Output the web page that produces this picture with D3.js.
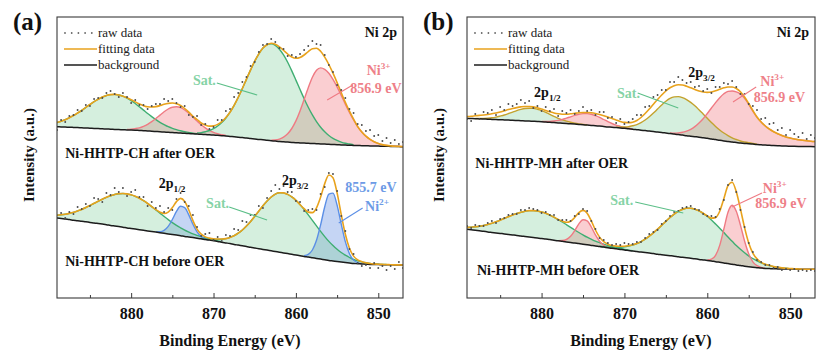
<!DOCTYPE html>
<html>
<head>
<meta charset="utf-8">
<script src="https://cdn.jsdelivr.net/npm/d3@7/dist/d3.min.js"></script>
<style>
  body { margin: 0; background: #fff; }
</style>
</head>
<body>
<svg id="chart" width="817" height="358"></svg>
<script>
// binding energy grid shared by every scan: 889 -> 847 eV, 0.5 eV step
const energy = d3.range(889, 846.99, -0.5)
const majorTicks = [880, 870, 860, 850]
const minorTicks = [885, 875, 865, 855]
const legendLabels = ['raw data', 'fitting data', 'background']

// ---- Ni-HHTP-CH after OER (intensity in a.u.) ----
const chAfterBg = [171.3,171.1,170.9,170.8,170.6,170.4,170.2,170.0,169.8,169.6,169.4,169.2,169.0,168.8,168.6,168.4,168.3,168.1,168.0,
  167.8,167.5,167.3,167.0,166.8,166.5,166.2,166.0,165.7,165.5,165.2,165.0,164.7,164.5,164.2,164.0,163.7,163.5,163.2,163.0,
  162.7,162.3,162.0,161.6,161.2,160.8,160.4,160.0,159.5,159.1,158.6,158.2,157.7,157.3,156.9,156.5,156.2,155.9,155.6,155.3,
  155.1,154.9,154.7,154.5,154.3,154.1,153.9,153.7,153.5,153.3,153.1,152.9,152.8,152.6,152.5,152.3,152.2,152.1,152.0,151.9,
  151.8,151.7,151.6,151.5,151.4,151.3]
const chAfterRaw = [168,178,176,182,183,188,187,193,192,199,200,200,205,207,204,201,205,201,195,
  198,193,193,189,192,194,194,199,197,199,195,191,192,183,181,182,173,174,169,171,
  178,178,187,189,201,205,216,221,232,236,246,253,254,259,256,250,249,242,243,241,
  244,248,252,257,254,253,243,233,226,213,208,200,189,185,174,173,167,168,162,163,
  157,160,155,158,154,156]
const chAfterSatA = [4.2,5.6,7.4,9.5,11.9,14.6,17.5,20.6,23.7,26.7,29.4,31.7,33.5,34.6,35.0,34.6,33.5,31.7,29.4,26.7,
  23.7,20.6,17.5,14.6,11.9,9.5,7.4,5.6,4.2,3.1,2.2,1.5,1.1,0.7,0.4]
const chAfterNi3A = [0.5,0.9,1.6,2.7,4.4,6.7,9.6,13.0,16.7,20.3,23.3,25.3,26.0,25.3,23.3,20.3,16.7,13.0,9.6,6.7,4.4,2.7,1.6,0.9,0.5]
const chAfterSatB = [1.1,1.7,2.8,4.3,6.4,9.3,13.1,18.0,24.2,31.5,39.9,49.1,58.9,68.6,77.7,85.6,91.8,95.6,97.0,95.8,
  92.3,86.9,79.8,71.5,62.6,53.4,44.4,36.1,28.6,22.1,16.7,12.3,8.8,6.2,4.3,2.8,1.8,1.2,0.8]
const chAfterNi3B = [0.5,1.1,2.4,4.6,8.3,13.9,21.8,32.0,43.7,55.6,66.2,73.4,76.0,74.7,71.0,65.1,57.8,49.5,41.0,32.8,
  25.4,18.9,13.7,9.6,6.5,4.2,2.7,1.6,0.9,0.5,0.3,0.2,0.1]

// ---- Ni-HHTP-CH before OER ----
const chBeforeBg = [80.0,79.5,78.9,78.4,77.8,77.3,76.7,76.2,75.6,75.1,74.5,73.9,73.3,72.6,72.0,71.4,70.8,70.1,69.5,
  68.9,68.3,67.7,67.1,66.5,65.9,65.3,64.7,64.1,63.5,62.9,62.3,61.6,61.0,60.4,59.8,59.2,58.5,57.9,57.3,
  56.6,55.8,55.1,54.4,53.6,52.9,52.2,51.5,50.7,50.0,49.3,48.6,47.9,47.2,46.5,45.8,45.1,44.4,43.7,43.0,
  42.3,41.6,41.0,40.3,39.6,38.9,38.2,37.5,37.0,36.5,36.0,35.5,35.0,34.5,34.3,34.0,33.8,33.5,33.4,33.4,
  33.3,33.3,33.2,33.1,33.1,33.0]
const chBeforeRaw = [80,85,80,86,84,91,89,94,92,100,99,96,105,103,110,106,110,102,106,
  108,101,101,92,96,90,92,86,90,88,99,105,96,92,83,71,62,64,65,58,
  61,57,63,62,69,68,77,76,83,83,92,90,100,107,113,109,112,106,106,97,
  96,87,88,89,88,104,111,125,124,107,82,67,49,44,35,32,33,30,35,30,
  32,28,32,29,36,30]
const chBeforeSatA = [2.8,3.7,4.9,6.2,7.9,9.8,11.9,14.3,16.9,19.6,22.2,24.9,27.4,29.6,31.5,32.8,33.7,34.0,33.7,32.8,
  31.5,29.6,27.4,24.9,22.2,19.6,16.9,14.3,11.9,9.8,7.9,6.2,4.9,3.7,2.8,2.0,1.5,1.1,0.7,0.5,0.3]
const chBeforeNi2A = [0.2,0.9,2.9,7.5,15.0,23.7,29.4,28.7,22.1,13.3,6.3,2.4,0.7,0.2]
const chBeforeSatB = [0.2,0.4,0.7,1.2,1.9,2.9,4.3,6.2,8.7,11.9,15.8,20.5,25.8,31.6,37.6,43.6,49.1,53.8,57.4,59.5,
  60.0,59.2,57.4,54.7,51.1,46.9,42.2,37.4,32.5,27.7,23.2,19.1,15.4,12.2,9.5,7.3,5.5,4.0,2.9,2.1,1.4,1.0,0.7,0.4,0.3,0.2]
const chBeforeNi2B = [0.8,2.7,7.7,18.1,34.3,53.0,66.4,67.9,56.4,38.1,20.9,9.3,3.4,1.0,0.2]

// ---- Ni-HHTP-MH after OER ----
const mhAfterBg = [179.7,179.5,179.3,179.2,179.0,178.8,178.6,178.4,178.3,178.1,177.9,177.7,177.5,177.3,177.1,176.9,176.7,176.5,176.3,
  176.0,175.7,175.4,175.1,174.8,174.5,174.2,173.9,173.6,173.3,172.9,172.6,172.2,171.9,171.5,171.1,170.8,170.4,170.1,169.7,
  169.2,168.8,168.3,167.8,167.4,166.9,166.4,165.9,165.5,165.0,164.5,163.9,163.4,162.9,162.3,161.8,161.3,160.8,160.2,159.7,
  159.0,158.4,157.7,157.1,156.6,156.0,155.5,155.0,154.6,154.3,153.9,153.5,153.2,152.9,152.7,152.4,152.2,152.1,151.9,151.8,
  151.7,151.6,151.5,151.4,151.4,151.3]
const mhAfterFit = [181.5,181.8,182.2,182.6,183.0,183.5,184.2,185.0,186.0,187.2,188.4,189.5,190.4,191.1,191.5,191.5,191.1,190.2,188.9,
  187.5,186.2,185.0,184.2,183.8,183.8,184.2,184.7,185.2,185.5,185.5,185.2,184.5,183.5,182.3,181.0,179.5,178.0,176.6,175.6,
  175.3,175.8,177.5,180.5,184.5,189.0,193.8,198.5,203.0,207.0,210.2,212.2,213.2,213.0,211.8,210.2,208.5,207.0,206.0,205.6,
  206.0,207.2,208.8,210.2,211.0,211.0,209.5,206.3,201.0,194.5,187.5,181.0,176.0,172.0,168.8,166.3,164.2,162.5,161.1,160.0,
  159.0,158.3,157.7,157.2,156.8,156.5]
const mhAfterRaw = [179,177,184,179,186,185,188,183,191,188,194,192,194,198,195,197,190,192,187,
  191,187,189,182,187,185,188,184,187,191,187,188,183,186,186,180,181,175,179,174,
  176,179,183,183,191,192,201,203,208,208,216,216,221,218,215,216,211,212,207,209,
  205,211,211,215,214,217,211,204,204,194,192,188,179,180,174,175,168,170,163,168,
  164,161,165,159,163,160]
const mhAfterSatA = [0.2,0.3,0.6,1.0,1.6,2.5,3.6,4.9,6.5,8.2,9.9,11.3,12.4,12.9,12.9,12.2,11.1,9.6,7.9,6.2,4.6,3.3,2.3,1.5,0.9,0.5,0.3,0.2]
const mhAfterNi3A = [0.3,0.5,0.9,1.6,2.5,3.7,5.3,7.0,8.7,10.1,11.1,11.5,11.1,10.1,8.7,7.0,5.3,3.7,2.5,1.6,0.9,0.5,0.3]
const mhAfterSatB = [0.4,0.8,1.3,2.1,3.4,5.1,7.5,10.6,14.3,18.5,23.1,27.6,31.7,35.1,37.2,38.0,37.5,36.1,33.8,30.9,
  27.4,23.8,20.1,16.5,13.2,10.3,7.9,5.8,4.2,3.0,2.0,1.4,0.9,0.6,0.4]
const mhAfterNi3B = [0.6,1.0,1.7,2.9,4.5,6.9,10.1,14.2,19.1,24.8,31.0,37.0,42.6,47.1,50.0,51.0,50.6,49.0,45.0,39.3,
  33.0,27.1,22.8,19.1,16.1,13.9,12.0,10.4,9.2,8.2,7.3,6.7,6.2,5.8,5.4,5.2]

// ---- Ni-HHTP-MH before OER ----
const mhBeforeBg = [68.7,68.2,67.7,67.2,66.7,66.1,65.6,65.1,64.6,64.1,63.6,63.1,62.6,62.0,61.5,61.0,60.5,60.0,59.5,
  58.9,58.4,57.8,57.2,56.7,56.1,55.5,54.9,54.4,53.8,53.2,52.6,52.0,51.5,50.9,50.3,49.7,49.2,48.6,48.0,
  47.5,47.0,46.4,45.9,45.4,44.9,44.4,43.8,43.3,42.8,42.3,41.8,41.2,40.7,40.2,39.7,39.2,38.6,38.1,37.6,
  37.0,36.3,35.7,35.1,34.4,33.8,33.1,32.5,31.8,31.2,30.7,30.3,29.9,29.6,29.4,29.2,29.1,29.0,29.0,28.9,
  28.9,28.8,28.8,28.8,28.7,28.7]
const mhBeforeRaw = [72,70,73,72,72,75,77,75,79,80,83,84,84,88,88,90,89,88,85,
  86,83,83,78,78,78,77,82,84,89,87,77,69,60,58,55,53,54,53,55,
  54,54,56,56,60,64,66,68,74,77,82,86,87,90,91,92,89,88,84,82,
  82,81,89,98,113,118,106,88,71,55,46,38,36,33,33,30,31,28,29,28,
  29,27,28,27,28,27]
const mhBeforeSatA = [1.9,2.6,3.5,4.5,5.8,7.4,9.1,11.1,13.2,15.5,17.7,20.0,22.0,23.8,25.3,26.4,26.9,27.0,26.6,25.8,
  24.5,23.0,21.2,19.3,17.2,15.1,13.1,11.1,9.3,7.6,6.2,4.9,3.8,3.0,2.2,1.7,1.2,0.9,0.6,0.4,0.3]
const mhBeforeNi3A = [0.2,0.8,2.4,6.2,12.5,19.8,24.5,24.0,18.4,11.1,5.3,2.0,0.6,0.1]
const mhBeforeSatB = [0.3,0.4,0.7,1.0,1.5,2.2,3.1,4.4,6.0,8.0,10.5,13.5,17.0,20.8,25.0,29.4,33.9,38.2,42.1,45.4,
  47.9,49.5,50.0,49.6,48.5,46.6,44.1,41.1,37.7,34.1,30.3,26.5,22.9,19.4,16.2,13.4,10.8,8.6,6.8,5.2,
  4.0,3.0,2.2,1.6,1.1,0.8,0.5,0.4,0.2]
const mhBeforeNi3B = [0.4,1.8,6.4,16.9,33.9,51.4,59.0,53.7,40.4,25.2,13.0,5.5,2.0,0.6,0.1]

// fitted components: 'from' is the binding energy where each listed component starts
const chAfter = { bg: chAfterBg, raw: chAfterRaw, peaks: [
  { kind: 'sat', from: 889, values: chAfterSatA },
  { kind: 'ni3', from: 880.5, values: chAfterNi3A },
  { kind: 'sat', from: 872, values: chAfterSatB },
  { kind: 'ni3', from: 863, values: chAfterNi3B } ] }
const chBefore = { bg: chBeforeBg, raw: chBeforeRaw, peaks: [
  { kind: 'sat', from: 889, values: chBeforeSatA },
  { kind: 'ni2', from: 877, values: chBeforeNi2A },
  { kind: 'sat', from: 871.5, values: chBeforeSatB },
  { kind: 'ni2', from: 859, values: chBeforeNi2B } ] }
const mhAfter = { bg: mhAfterBg, raw: mhAfterRaw, fit: mhAfterFit, satLine: '#c3a22e', peaks: [
  { kind: 'sat', from: 888, values: mhAfterSatA },
  { kind: 'ni3', from: 880, values: mhAfterNi3A },
  { kind: 'sat', from: 871, values: mhAfterSatB },
  { kind: 'ni3', from: 864.5, values: mhAfterNi3B } ] }
const mhBefore = { bg: mhBeforeBg, raw: mhBeforeRaw, peaks: [
  { kind: 'sat', from: 889, values: mhBeforeSatA },
  { kind: 'ni3', from: 878, values: mhBeforeNi3A },
  { kind: 'sat', from: 873, values: mhBeforeSatB },
  { kind: 'ni3', from: 860, values: mhBeforeNi3B } ] }

const col = {
  sat: { fill: 'rgba(118,204,150,0.31)', line: '#3fae72', text: '#86d3a6' },
  ni3: { fill: 'rgba(240,118,128,0.36)', line: '#ef7a83', text: '#ee8088' },
  ni2: { fill: 'rgba(110,150,228,0.40)', line: '#5b8fe6', text: '#6d9be6' }
}
const fitColor = '#e8a21c'
const fontFamily = "'Liberation Serif', 'Times New Roman', serif"

const svg = d3.select('#chart').attr('font-family', fontFamily)
const y = d3.scaleLinear().domain([0, 281]).range([298, 17])

const startIndex = from => Math.round((energy[0] - from) / 0.5)

function fitValues(s) {
  if (s.fit) return s.fit
  const total = s.bg.slice()
  s.peaks.forEach(pk => {
    const i0 = startIndex(pk.from)
    pk.values.forEach((v, k) => { total[i0 + k] += v })
  })
  return total
}

function txt(g, size) {
  return g.append('text').attr('font-family', fontFamily).attr('font-size', size)
}

function richText(g, x, yy, parts, size, color) {
  const t = txt(g, size).attr('x', x).attr('y', yy)
    .attr('font-weight', 'bold').attr('fill', color)
  parts.forEach(([s, mode]) => {
    const ts = t.append('tspan').text(s)
    if (mode === 'sub') ts.attr('font-size', size * 0.66).attr('dy', 4)
    if (mode === 'sup') ts.attr('font-size', size * 0.66).attr('dy', -6)
  })
  return t
}

const panels = [
  { id: 'a', left: 57, right: 403, tag: '(a)', spectra: [chAfter, chBefore],
    notes: [
      { e: 872.5, i: 213, parts: [['Sat.']], c: col.sat.text, lead: [869.6, 215, 864.7, 203], lc: '#5cbf88' },
      { e: 851.4, i: 223, parts: [['Ni'], ['3+', 'sup']], c: col.ni3.text },
      { e: 853.4, i: 205, parts: [['856.9 eV']], c: col.ni3.text, lead: [853.1, 213, 856.2, 198], lc: '#ef7a83' },
      { e: 888.0, i: 140, parts: [['Ni-HHTP-CH after OER']], c: '#111' },
      { e: 876.65, i: 110, parts: [['2p'], ['1/2', 'sub']], c: '#111' },
      { e: 861.7, i: 113, parts: [['2p'], ['3/2', 'sub']], c: '#111' },
      { e: 870.9, i: 90, parts: [['Sat.']], c: col.sat.text, lead: [868.1, 91, 863.5, 78], lc: '#5cbf88' },
      { e: 854.0, i: 106, parts: [['855.7 eV']], c: col.ni2.text },
      { e: 851.6, i: 87, parts: [['Ni'], ['2+', 'sup']], c: col.ni2.text, lead: [851.9, 90, 854.8, 75], lc: '#5b8fe6' },
      { e: 888.0, i: 32, parts: [['Ni-HHTP-CH before OER']], c: '#111' }
    ] },
  { id: 'b', left: 467, right: 815, tag: '(b)', spectra: [mhAfter, mhBefore],
    notes: [
      { e: 880.9, i: 201, parts: [['2p'], ['1/2', 'sub']], c: '#111' },
      { e: 862.3, i: 221, parts: [['2p'], ['3/2', 'sub']], c: '#111' },
      { e: 870.9, i: 200, parts: [['Sat.']], c: col.sat.text, lead: [868.4, 205, 863.5, 190], lc: '#5cbf88' },
      { e: 853.6, i: 212, parts: [['Ni'], ['3+', 'sup']], c: col.ni3.text },
      { e: 854.4, i: 196, parts: [['856.9 eV']], c: col.ni3.text, lead: [854.1, 211, 856.9, 196], lc: '#ef7a83' },
      { e: 888.0, i: 130, parts: [['Ni-HHTP-MH after OER']], c: '#111' },
      { e: 871.7, i: 93, parts: [['Sat.']], c: col.sat.text, lead: [868.7, 96, 862.9, 85], lc: '#5cbf88' },
      { e: 853.3, i: 105, parts: [['Ni'], ['3+', 'sup']], c: col.ni3.text },
      { e: 854.2, i: 90, parts: [['856.9 eV']], c: col.ni3.text, lead: [853.4, 105, 857.0, 91], lc: '#ef7a83' },
      { e: 887.8, i: 23, parts: [['Ni-HHTP-MH before OER']], c: '#111' }
    ] }
]

panels.forEach(p => {
  const x = d3.scaleLinear().domain([889, 847]).range([p.left, p.right])
  const g = svg.append('g')

  svg.append('clipPath').attr('id', 'clip-' + p.id).append('rect')
    .attr('x', p.left).attr('y', 17).attr('width', p.right - p.left).attr('height', 281)
  const plot = g.append('g').attr('clip-path', `url(#clip-${p.id})`)

  const area = d3.area().curve(d3.curveMonotoneX)
    .x(d => x(d.e)).y0(d => y(d.base)).y1(d => y(d.top))
  const topLine = d3.line().curve(d3.curveMonotoneX)
    .x(d => x(d.e)).y(d => y(d.top))
  const plain = d3.line().curve(d3.curveMonotoneX)
    .x((d, i) => x(energy[i])).y(d => y(d))

  p.spectra.forEach(s => {
    s.peaks.forEach(pk => {
      const i0 = startIndex(pk.from)
      pk.pts = pk.values.map((v, k) => ({ e: energy[i0 + k], base: s.bg[i0 + k], top: s.bg[i0 + k] + v }))
    })
  })

  // Ni fills first, satellites laid over them, then every outline
  const order = pk => (pk.kind === 'sat' ? 1 : 0)
  p.spectra.forEach(s => s.peaks.slice().sort((a, b) => order(a) - order(b)).forEach(pk => {
    plot.append('path').attr('d', area(pk.pts)).attr('fill', col[pk.kind].fill)
  }))
  p.spectra.forEach(s => s.peaks.forEach(pk => {
    const stroke = pk.kind === 'sat' && s.satLine ? s.satLine : col[pk.kind].line
    plot.append('path').attr('d', topLine(pk.pts)).attr('fill', 'none')
      .attr('stroke', stroke).attr('stroke-width', 1.4)
  }))

  // background and envelope
  p.spectra.forEach(s => {
    plot.append('path').attr('d', plain(s.bg)).attr('fill', 'none')
      .attr('stroke', '#1c1c1c').attr('stroke-width', 1.5)
    plot.append('path').attr('d', plain(fitValues(s))).attr('fill', 'none')
      .attr('stroke', fitColor).attr('stroke-width', 1.6)
  })

  // raw data points
  p.spectra.forEach(s => {
    plot.selectAll(null).data(s.raw).join('circle')
      .attr('cx', (d, i) => x(energy[i])).attr('cy', d => y(d))
      .attr('r', 0.95).attr('fill', '#4a4a4a')
  })

  // frame
  g.append('rect').attr('x', p.left).attr('y', 17)
    .attr('width', p.right - p.left).attr('height', 281)
    .attr('fill', 'none').attr('stroke', '#3a3a3a').attr('stroke-width', 1.1)

  // inward ticks on the energy axis
  const axis = g.append('g').attr('transform', 'translate(0,298)')
    .call(d3.axisBottom(x).tickValues(majorTicks).tickSizeInner(-5).tickSizeOuter(0)
      .tickPadding(10).tickFormat(d3.format('d')))
  axis.attr('font-family', fontFamily)
  axis.select('.domain').remove()
  axis.selectAll('line').attr('stroke', '#3a3a3a')
  axis.selectAll('text').attr('font-size', 16).attr('font-weight', 'bold').attr('fill', '#111')
  const minor = g.append('g').attr('transform', 'translate(0,298)')
    .call(d3.axisBottom(x).tickValues(minorTicks).tickSizeInner(-3).tickSizeOuter(0).tickFormat(''))
  minor.select('.domain').remove()
  minor.selectAll('line').attr('stroke', '#3a3a3a')

  // axis titles and panel tag
  const midX = (p.left + p.right) / 2
  txt(g, 16).attr('x', midX).attr('y', 346).attr('text-anchor', 'middle')
    .attr('font-weight', 'bold').attr('fill', '#111')
    .text('Binding Energy (eV)')
  txt(g, 15).attr('transform', `translate(${p.left - 23},155) rotate(-90)`)
    .attr('text-anchor', 'middle').attr('font-weight', 'bold').attr('fill', '#111')
    .text('Intensity (a.u.)')
  txt(g, 25).attr('x', p.left - 44).attr('y', 30)
    .attr('font-weight', 'bold').attr('fill', '#111').text(p.tag)
  txt(g, 14).attr('x', p.right - 6).attr('y', 37).attr('text-anchor', 'end')
    .attr('font-weight', 'bold').attr('fill', '#111').text('Ni 2p')

  // legend
  const lx = p.left + 7
  d3.range(5).forEach(k => g.append('circle').attr('cx', lx + 1 + k * 6.7).attr('cy', 33)
    .attr('r', 0.9).attr('fill', '#666'))
  g.append('line').attr('x1', lx).attr('x2', lx + 33).attr('y1', 49).attr('y2', 49)
    .attr('stroke', fitColor).attr('stroke-width', 1.6)
  g.append('line').attr('x1', lx).attr('x2', lx + 33).attr('y1', 65).attr('y2', 65)
    .attr('stroke', '#1c1c1c').attr('stroke-width', 1.6)
  legendLabels.forEach((t, k) => txt(g, 13).attr('x', lx + 34).attr('y', 37 + k * 16)
    .attr('fill', '#222').text(t))

  // annotations
  p.notes.forEach(n => {
    if (n.lead) {
      g.append('line').attr('x1', x(n.lead[0])).attr('y1', y(n.lead[1]))
        .attr('x2', x(n.lead[2])).attr('y2', y(n.lead[3]))
        .attr('stroke', n.lc).attr('stroke-width', 1.1)
    }
    richText(g, x(n.e), y(n.i), n.parts, 14, n.c)
  })
})
</script>
</body>
</html>
